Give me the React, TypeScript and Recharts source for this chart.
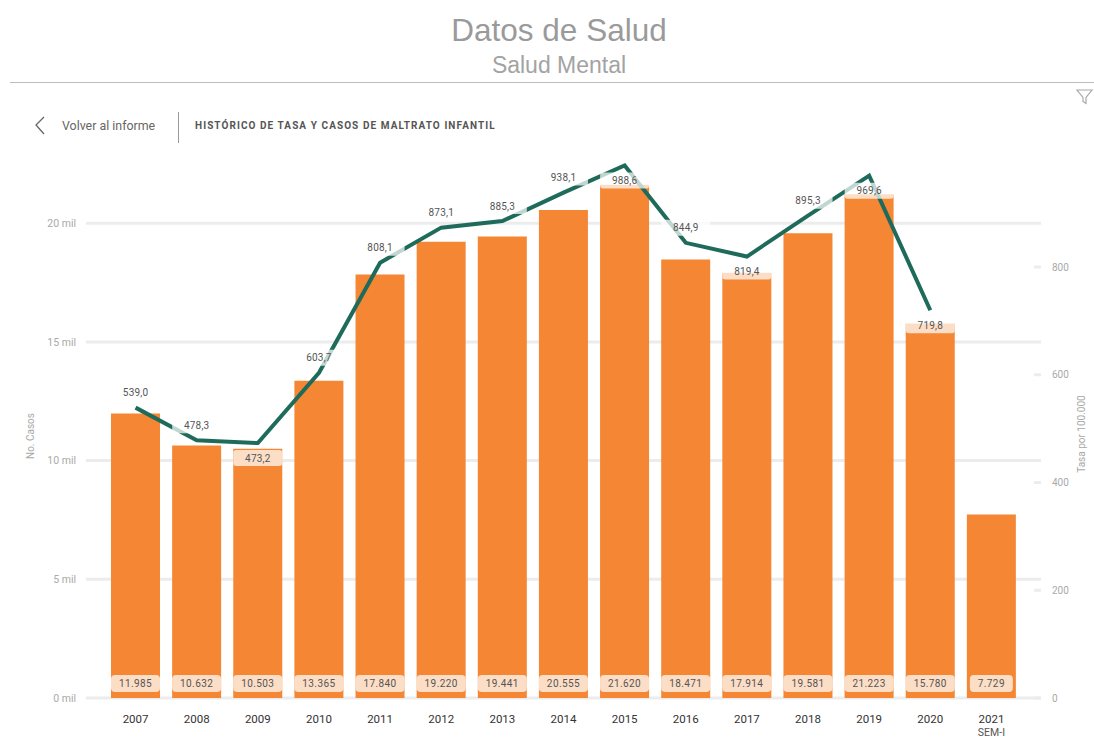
import React from 'react';
import { ComposedChart, Bar, Line, XAxis, YAxis, CartesianGrid, LabelList } from 'recharts';

const years = ['2007', '2008', '2009', '2010', '2011', '2012', '2013', '2014', '2015', '2016', '2017', '2018', '2019', '2020', '2021'];
const casos = [11985, 10632, 10503, 13365, 17840, 19220, 19441, 20555, 21620, 18471, 17914, 19581, 21223, 15780, 7729];
const tasa = [539.0, 478.3, 473.2, 603.7, 808.1, 873.1, 885.3, 938.1, 988.6, 844.9, 819.4, 895.3, 969.6, 719.8, null];
const casosTicks = [0, 5000, 10000, 15000, 20000];
const tasaTicks = [0, 200, 400, 600, 800];
const tasaLabelBelow = ['2009', '2015', '2017', '2019', '2020'];

const data = years.map((year, i) => ({ year, casos: casos[i], tasa: tasa[i] }));

const labelFont = 'Roboto, sans-serif';

const formatCasos = (v: number) => String(v).replace(/\B(?=(\d{3})+$)/g, '.');
const formatTasa = (v: number) => v.toFixed(1).replace('.', ',');

// peach pill at the foot of each bar
const CasosLabel = (props: any) => {
  const { x, y, width, height, value } = props;
  if (value == null) return null;
  const text = formatCasos(value);
  const w = Math.min(width, text.length * 6 + 13);
  const bottom = y + height;
  return (
    <g>
      <rect x={x + width / 2 - w / 2} y={bottom - 23} width={w} height={17} rx={4} fill="#fff" fillOpacity={0.72} />
      <text x={x + width / 2} y={bottom - 14.5} textAnchor="middle" dominantBaseline="central" fontSize={10} letterSpacing={0.4} fontFamily={labelFont} fill="#555">
        {text}
      </text>
    </g>
  );
};

const TasaLabel = (props: any) => {
  const { x, y, value, index } = props;
  if (value == null) return null;
  const cy = tasaLabelBelow.includes(years[index]) ? y + 15 : y - 15;
  return (
    <g>
      <rect x={x - 24.5} y={cy - 8} width={49} height={16} rx={3} fill="#fff" fillOpacity={0.72} />
      <text x={x} y={cy} textAnchor="middle" dominantBaseline="central" fontSize={10} letterSpacing={0.2} fontFamily={labelFont} fill="#555">
        {formatTasa(value)}
      </text>
    </g>
  );
};

const YearTick = (props: any) => {
  const { x, y, payload } = props;
  return (
    <text x={x} y={y} textAnchor="middle" fontSize={11.5} fontFamily={labelFont} fill="#333">
      <tspan x={x} dy={17}>{payload.value}</tspan>
      {payload.value === '2021' && <tspan x={x} dy={13} fontSize={10.5} fill="#555">SEM-I</tspan>}
    </text>
  );
};

const TasaTick = (props: any) => {
  const { x, y, payload } = props;
  return (
    <g>
      <line x1={x - 15} x2={x - 8} y1={y} y2={y} stroke="#ececec" strokeWidth={3} />
      <text x={x + 3} y={y} dominantBaseline="central" fontSize={10} fontFamily={labelFont} fill="#a9a9a9">
        {payload.value}
      </text>
    </g>
  );
};

const App = () => {
  return (
    <div style={{ position: 'absolute', left: 0, top: 0, width: 1094, height: 740, background: '#fff', overflow: 'hidden' }}>
      <div style={{ position: 'absolute', left: 0, width: 1118, top: 11, textAlign: 'center', fontFamily: 'Liberation Sans', fontSize: 31.5, lineHeight: '38px', color: '#9a9a9a' }}>
        Datos de Salud
      </div>
      <div style={{ position: 'absolute', left: 0, width: 1118, top: 51, textAlign: 'center', fontFamily: 'Liberation Sans', fontSize: 23, lineHeight: '28px', color: '#a3a3a3' }}>
        Salud Mental
      </div>
      <div style={{ position: 'absolute', left: 10, right: 0, top: 82, height: 1, background: '#bdbdbd' }} />

      <svg style={{ position: 'absolute', left: 1074, top: 88 }} width={20} height={18}>
        <path d="M3 2 H18 L12 9.5 V15.5 L9 13.5 V9.5 Z" fill="none" stroke="#a8a8a8" strokeWidth={1.2} />
      </svg>
      <svg style={{ position: 'absolute', left: 32, top: 114 }} width={16} height={22}>
        <path d="M12 3 L4 11 L12 20" fill="none" stroke="#666" strokeWidth={1.3} />
      </svg>
      <div style={{ position: 'absolute', left: 62, top: 118, fontFamily: labelFont, fontSize: 12.4, lineHeight: '16px', color: '#666' }}>
        Volver al informe
      </div>
      <div style={{ position: 'absolute', left: 178, top: 112, width: 1, height: 31, background: '#999' }} />
      <div style={{ position: 'absolute', left: 195, top: 118, fontFamily: labelFont, fontSize: 10, lineHeight: '16px', fontWeight: 700, letterSpacing: 1.07, color: '#555' }}>
        HISTÓRICO DE TASA Y CASOS DE MALTRATO INFANTIL
      </div>

      <div style={{ position: 'absolute', left: 0, top: 0 }}>
        <ComposedChart width={1094} height={740} data={data} margin={{ top: 152, right: 0, bottom: 0, left: 0 }}>
          <CartesianGrid yAxisId="casos" vertical={false} syncWithTicks stroke="#ececec" strokeWidth={3} />
          <XAxis dataKey="year" height={42} padding={{ left: 19, right: 19 }} axisLine={false} tickLine={false} interval={0} tick={<YearTick />} />
          <YAxis
            yAxisId="casos"
            width={86}
            domain={[0, 23000]}
            ticks={casosTicks}
            axisLine={false}
            tickLine={false}
            tickMargin={4}
            tick={{ fontSize: 10.5, fontFamily: labelFont, fill: '#a9a9a9' }}
            tickFormatter={(v: number) => `${v / 1000} mil`}
            label={{ value: 'No. Casos', angle: -90, position: 'insideLeft', dx: 25, dy: 11, style: { fontSize: 10, fontFamily: labelFont, fill: '#a9a9a9', textAnchor: 'middle' } }}
          />
          <YAxis
            yAxisId="tasa"
            orientation="right"
            width={53}
            domain={[0, 1013.5]}
            ticks={tasaTicks}
            axisLine={false}
            tickLine={false}
            tick={<TasaTick />}
            label={{ value: 'Tasa por 100.000', angle: -90, position: 'insideRight', dx: -8, dy: 9, style: { fontSize: 10, fontFamily: labelFont, fill: '#a9a9a9', textAnchor: 'middle' } }}
          />
          <Bar yAxisId="casos" dataKey="casos" fill="#f58634" barSize={49} isAnimationActive={false}>
            <LabelList dataKey="casos" content={<CasosLabel />} />
          </Bar>
          <Line yAxisId="tasa" dataKey="tasa" type="linear" stroke="#1f6b5b" strokeWidth={4} dot={false} activeDot={false} isAnimationActive={false}>
            <LabelList dataKey="tasa" content={<TasaLabel />} />
          </Line>
        </ComposedChart>
      </div>
    </div>
  );
};

export default App;
